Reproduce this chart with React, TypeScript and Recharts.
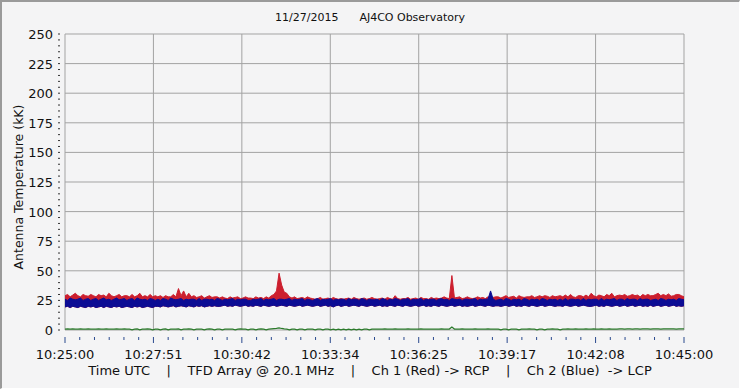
import { Area, CartesianGrid, ComposedChart, Line, XAxis, YAxis } from 'recharts'

// 20 minutes of samples, one every 5 s (10:25:00 -> 10:45:00)
const SPAN_SEC = 1200
const STEP_SEC = 5

const timeLabels = ['10:25:00', '10:27:51', '10:30:42', '10:33:34', '10:36:25', '10:39:17', '10:42:08', '10:45:00']
const yMajor = [0, 25, 50, 75, 100, 125, 150, 175, 200, 225, 250]

// Ch 1 (Red) -> RCP, upper envelope of the trace (kK), one row per minute
const ch1Peak = [
  29, 30, 28, 29.5, 31, 29, 28, 30, 29, 28.5, 30, 29,
  28, 30, 29, 29.5, 28, 31, 29, 28, 29, 30, 28, 29,
  29, 28, 30, 28, 29, 31, 28, 29, 28, 30, 28, 29,
  28, 29, 27.5, 29, 28, 28, 30, 28, 35, 29, 33, 28,
  31, 28, 29, 27.5, 28, 29, 27, 28, 29, 27.5, 28, 28,
  27, 28, 27, 26.5, 28, 27, 27.5, 28, 26.5, 27, 28, 27,
  27, 26.5, 28, 27, 27.5, 26.5, 28, 27, 29, 30, 33, 48,
  38, 32, 31, 28, 27, 28, 26.5, 27, 27.5, 26.5, 28, 27,
  26.5, 26, 26.5, 27.5, 26, 26.5, 27, 26, 27.5, 26.5, 26, 26.5,
  26, 26.5, 27, 26, 27.5, 26.5, 26, 26.5, 27, 26, 26.5, 27.5,
  26.5, 26, 26.5, 27, 26, 27.5, 26.5, 26, 29, 26.5, 26, 26.5,
  26.5, 27.5, 26, 26.5, 27, 26, 27.5, 26.5, 26.5, 26, 27.5, 26.5,
  27, 26.5, 27, 28, 27, 26.5, 46, 27, 27.5, 28, 26.5, 27,
  28, 27, 26.5, 27, 28, 27, 27.5, 26.5, 28, 27, 27.5, 28,
  28, 27, 28, 29, 27.5, 28, 28.5, 27, 29, 28, 27.5, 28,
  28, 29, 27.5, 28, 29, 28, 29, 28.5, 27.5, 29, 28, 28.5,
  29, 28, 29.5, 28, 30, 28, 27.5, 29, 29, 28, 29.5, 28,
  31, 29, 28, 29.5, 29, 28, 30, 29, 31, 28, 29, 29.5,
  29, 30, 28.5, 29, 30, 29, 29.5, 28, 30, 29, 30, 29,
  29, 30, 31, 29, 30, 29, 30.5, 28.5, 29, 30, 30, 29,
  28,
]

// Ch 2 (Blue) -> LCP, upper envelope
const ch2Peak = [
  26, 25, 27, 26, 25.5, 26, 27, 25, 26, 26.5, 25, 26,
  26.5, 25, 26, 27, 25.5, 26, 25, 26, 27, 25.5, 26, 26.5,
  25, 26, 26.5, 25, 27, 26, 25.5, 26, 25, 26.5, 26, 25,
  26, 25, 26.5, 26, 25, 27, 26, 25.5, 26, 26.5, 25, 26,
  25.5, 26, 26, 25, 26.5, 25, 26, 26, 25.5, 26, 25, 26.5,
  26, 25, 26, 25.5, 26, 26.5, 25, 26, 25.5, 26, 26, 25,
  25, 26, 25.5, 26, 26.5, 25, 26, 25.5, 26, 26.5, 25, 26,
  26, 25.5, 26, 26.5, 25, 26, 25.5, 26, 26.5, 25, 26, 25.5,
  25, 26, 26.5, 25, 26, 25.5, 26, 26.5, 25, 26, 25.5, 26,
  26, 25, 26.5, 25.5, 26, 26, 25, 26.5, 26, 25, 26, 25.5,
  25.5, 26, 25, 26.5, 26, 25, 26, 25.5, 26.5, 26, 25, 26,
  26, 26.5, 25, 26, 25.5, 26, 26.5, 25, 26, 25.5, 26, 26,
  25, 26, 26.5, 25.5, 26, 25, 26.5, 26, 25.5, 26, 25, 26,
  26, 25.5, 26, 26.5, 25, 26, 25.5, 26, 26, 33, 26, 25,
  25.5, 26, 25, 26.5, 26, 25, 26, 25.5, 26, 25, 26.5, 26,
  25, 26, 25.5, 26, 25, 26.5, 26, 25, 26, 25.5, 26, 25,
  26, 25, 26.5, 25, 26, 26, 25.5, 26, 25, 26.5, 25, 26,
  25.5, 26, 26, 25, 26.5, 25, 26, 25.5, 26, 26.5, 25, 26,
  26, 25, 26.5, 25.5, 26, 26, 25, 26.5, 25.5, 26, 26, 25,
  25.5, 26, 25, 26.5, 26, 25, 26, 25.5, 26, 25, 26.5, 26,
  25.5,
]

// Ch 2 (Blue) -> LCP, lower envelope
const ch2Floor = [
  19.5, 20, 19, 20, 19.5, 19, 20, 19.5, 19, 20, 19.5, 20,
  19, 19.5, 20, 19, 20, 19.5, 19, 20, 19.5, 20, 19, 19.5,
  20, 19.5, 19, 20, 19.5, 20, 19, 19.5, 20, 19.5, 19, 20,
  20, 19.5, 20.5, 20, 19.5, 20, 20.5, 19.5, 20, 20.5, 20, 19.5,
  20.5, 20, 19.5, 20.5, 20, 20.5, 19.5, 20, 20.5, 20, 20.5, 20,
  20, 20.5, 21, 20, 20.5, 20, 21, 20.5, 20, 20.5, 21, 20,
  20.5, 20, 21, 20.5, 20, 21, 20.5, 20, 20.5, 21, 20, 20.5,
  21, 20.5, 20, 21, 20.5, 20, 20.5, 21, 20, 20.5, 21, 20.5,
  20, 20.5, 21, 20, 20.5, 21, 20, 20.5, 19.5, 20.5, 21, 20,
  20.5, 21, 20, 20.5, 21, 20.5, 20, 21, 20.5, 20, 20.5, 21,
  20, 20.5, 21, 20, 20.5, 20, 21, 20.5, 20, 21, 20.5, 20,
  21, 20.5, 20, 20.5, 21, 20, 20.5, 21, 20, 20.5, 20, 21,
  20.5, 20, 21, 20.5, 20, 20.5, 21, 20, 20.5, 21, 20, 20.5,
  20, 20.5, 21, 20, 20.5, 21, 20.5, 20, 21, 20.5, 20, 20.5,
  20.5, 20, 20.5, 21, 20, 20.5, 21, 20, 20.5, 20, 21, 20.5,
  20, 21, 20.5, 20, 20.5, 21, 20, 20.5, 21, 20.5, 20, 20.5,
  20.5, 20, 21, 20.5, 20, 20.5, 21, 20, 20.5, 21, 20.5, 20,
  20, 20.5, 21, 20, 20.5, 20, 21, 20.5, 20, 20.5, 21, 20,
  20.5, 21, 20, 20.5, 21, 20, 20.5, 21, 20, 20.5, 20, 21,
  20, 20.5, 21, 20, 20.5, 21, 20, 20.5, 21, 20, 20.5, 20,
  20.5,
]

// third trace (green) sitting near zero
const ch3Green = [
  0.8, 0.9, 0.7, 0.9, 0.8, 0.8, 0.9, 0.7, 0.8, 0.9, 0.8, 0.7,
  0.8, 0.9, 0.8, 0.7, 0.9, 0.8, 0.8, 0.7, 0.9, 0.8, 0.8, 0.9,
  0.7, 0.8, 0.2, 0.8, 0.9, 0.2, 0.8, 0.7, 0.9, 0.8, 0.2, 0.8,
  0.8, 0.2, 0.8, 0.9, 0.2, 0.8, 0.7, 0.8, 0.9, 0.2, 0.8, 0.8,
  0.9, 0.8, 0.2, 0.8, 0.7, 0.8, 0.2, 0.8, 0.9, 0.8, 0.2, 0.8,
  0.8, 0.2, 0.8, 0.7, 0.8, 0.8, 0.2, 0.8, 0.9, 0.8, 0.8, 0.2,
  0.8, 0.8, 0.2, 0.8, 0.9, 0.8, 0.2, 0.8, 1.0, 1.2, 1.4, 1.8,
  1.3, 0.9, 0.8, 0.2, 0.8, 0.8, 0.2, 0.8, 0.8, 0.2, 0.8, 0.8,
  0.8, 0.2, 0.8, 0.8, 0.2, 0.8, 0.8, 0.2, 0.8, 0.2, 0.8, 0.2,
  0.8, 0.2, 0.8, 0.2, 0.8, 0.2, 0.8, 0.2, 0.8, 0.8, 0.2, 0.8,
  0.8, 0.8, 0.8, 0.8, 0.9, 0.8, 0.8, 0.8, 0.9, 0.8, 0.8, 0.8,
  0.8, 0.9, 0.8, 0.8, 0.8, 0.8, 0.9, 0.8, 0.8, 0.8, 0.8, 0.8,
  0.8, 0.8, 0.9, 0.8, 0.8, 0.8, 2.6, 0.8, 0.8, 0.8, 0.9, 0.8,
  0.8, 0.8, 0.8, 0.9, 0.8, 0.8, 0.8, 0.8, 0.9, 0.8, 0.8, 0.8,
  0.8, 0.2, 0.8, 0.8, 0.2, 0.8, 0.8, 0.8, 0.2, 0.8, 0.8, 0.8,
  0.9, 0.8, 0.8, 0.2, 0.8, 0.8, 0.2, 0.8, 0.8, 0.9, 0.8, 0.8,
  0.2, 0.8, 0.8, 0.9, 0.8, 0.8, 0.9, 0.8, 0.8, 0.8, 0.9, 0.8,
  0.8, 0.9, 0.8, 0.8, 0.9, 0.8, 0.8, 0.9, 0.8, 0.8, 0.8, 0.9,
  0.9, 0.8, 1.0, 0.9, 0.8, 0.9, 1.0, 0.8, 0.9, 1.0, 0.9, 0.8,
  1.0, 0.9, 1.0, 0.8, 1.0, 0.9, 1.0, 0.9, 1.0, 0.8, 1.0, 0.9,
  0.9,
]

const data = ch1Peak.map((redTop, i) => ({
  t: i * STEP_SEC,
  red: [ch2Floor[i], redTop],
  blue: [ch2Floor[i], ch2Peak[i]],
  green: ch3Green[i],
}))

const MINOR_PER_MAJOR = 6
const xMajorStep = SPAN_SEC / (timeLabels.length - 1)
const xMajor = timeLabels.map((_, i) => i * xMajorStep)
const xTicks = Array.from({ length: (timeLabels.length - 1) * MINOR_PER_MAJOR + 1 }, (_, i) => (i * xMajorStep) / MINOR_PER_MAJOR)
const yTicks = Array.from({ length: 51 }, (_, i) => i * 5)

const FONT = '"DejaVu Sans", Verdana, sans-serif'
const GRID = '#a3a3a3'
const TICK_BLUE = '#2b4a8e'
const RED = '#cc1f2e'
const BLUE = '#0c0c94'

const XTick = (props: any) => {
  const { x, y, payload } = props
  const idx = Math.round(payload.value / (xMajorStep / MINOR_PER_MAJOR))
  const major = idx % MINOR_PER_MAJOR === 0
  return (
    <g>
      <line x1={x} x2={x} y1={y + 7} y2={y + (major ? 13 : 10)} stroke={TICK_BLUE} strokeWidth={1} />
      {major && (
        <text x={x} y={y + 29} textAnchor="middle" fill="#111" fontSize={13} fontFamily={FONT}>
          {timeLabels[idx / MINOR_PER_MAJOR]}
        </text>
      )}
    </g>
  )
}

const YTick = (props: any) => {
  const { x, y, payload } = props
  const major = payload.value % 25 === 0
  return (
    <g>
      <line x1={x - 7} x2={x - 5} y1={y} y2={y} stroke="#333" strokeWidth={1} />
      {major && (
        <text x={x - 12} y={y + 5} textAnchor="end" fill="#111" fontSize={13} fontFamily={FONT}>
          {payload.value}
        </text>
      )}
    </g>
  )
}

export default function App() {
  return (
    <div style={{ position: 'relative', width: 740, height: 389, background: '#f4f4f5', fontFamily: FONT, color: '#111' }}>
      <style>{'body{margin:0}'}</style>
      <div style={{ position: 'absolute', left: 0, right: 0, top: 11, textAlign: 'center', fontSize: 11, whiteSpace: 'pre' }}>
        {'11/27/2015      AJ4CO Observatory'}
      </div>
      <div
        style={{
          position: 'absolute',
          left: 18,
          top: 187,
          fontSize: 12.5,
          whiteSpace: 'nowrap',
          transform: 'translate(-50%, -50%) rotate(-90deg)',
        }}
      >
        Antenna Temperature (kK)
      </div>
      <ComposedChart width={740} height={389} data={data} margin={{ top: 34, right: 56, bottom: 0, left: 8 }}>
        <CartesianGrid stroke={GRID} horizontalValues={yMajor} verticalValues={xMajor} fill="none" />
        <XAxis
          dataKey="t"
          type="number"
          domain={[0, SPAN_SEC]}
          ticks={xTicks}
          interval={0}
          height={59}
          axisLine={false}
          tickLine={false}
          tickSize={0}
          tickMargin={0}
          tick={<XTick />}
        />
        <YAxis
          type="number"
          domain={[0, 250]}
          ticks={yTicks}
          interval={0}
          width={57}
          axisLine={false}
          tickLine={false}
          tickSize={0}
          tickMargin={0}
          tick={<YTick />}
        />
        <Area dataKey="red" type="linear" stroke={RED} strokeWidth={1} fill={RED} fillOpacity={1} isAnimationActive={false} />
        <Area dataKey="blue" type="linear" stroke={BLUE} strokeWidth={1} fill={BLUE} fillOpacity={1} isAnimationActive={false} />
        <Line dataKey="green" stroke="#2b7a2b" strokeWidth={1.2} dot={false} isAnimationActive={false} />
      </ComposedChart>
      <div style={{ position: 'absolute', left: 0, right: 0, top: 363, textAlign: 'center', fontSize: 13, whiteSpace: 'pre' }}>
        {'Time UTC    |    TFD Array @ 20.1 MHz    |    Ch 1 (Red) -> RCP    |    Ch 2 (Blue)  -> LCP'}
      </div>
      <div
        style={{
          position: 'absolute',
          inset: 0,
          borderTop: '2px solid #9a9a9a',
          borderLeft: '2px solid #9a9a9a',
          borderRight: '1px solid #ffffff',
          borderBottom: '1px solid #ffffff',
          pointerEvents: 'none',
        }}
      />
    </div>
  )
}
